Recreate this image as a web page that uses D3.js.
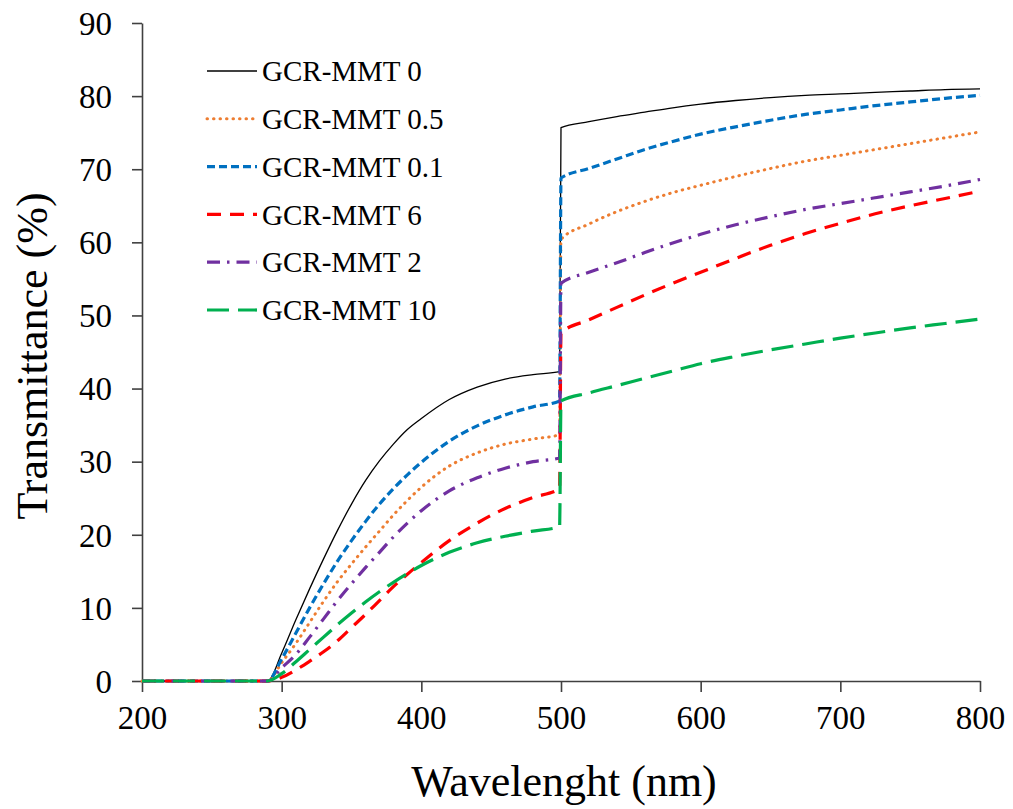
<!DOCTYPE html>
<html>
<head>
<meta charset="utf-8">
<script src="https://cdn.jsdelivr.net/npm/d3@7"></script>
<style>
  html, body { margin: 0; padding: 0; background: #fff; }
  svg { display: block; }
  text { font-family: "Liberation Serif", "Times New Roman", serif; fill: #000; }
</style>
</head>
<body>
<svg id="chart" width="1013" height="809"></svg>
<script>
// ---- data ----
const wavelengths = [200, 250, 290, 300, 310, 320, 330, 340, 350, 360, 370, 380, 390, 400, 420, 440, 460, 480, 499,
                     500, 520, 540, 560, 580, 600, 625, 650, 675, 700, 725, 750, 775, 800];

const seriesNames = ["GCR-MMT 0", "GCR-MMT 0.5", "GCR-MMT 0.1", "GCR-MMT 6", "GCR-MMT 2", "GCR-MMT 10"];

const mmt0   = [0, 0, 0, 3.8, 8.3, 12.6, 16.7, 20.6, 24.2, 27.4, 30.1, 32.4, 34.4, 35.9, 38.5, 40.2, 41.3, 41.9, 42.3,
                75.7, 76.5, 77.2, 77.8, 78.4, 78.9, 79.4, 79.8, 80.1, 80.3, 80.5, 80.7, 80.9, 81.0];
const mmt05  = [0, 0, 0, 2.5, 5.1, 8.0, 10.9, 13.6, 16.0, 18.3, 20.5, 22.7, 24.7, 26.5, 29.4, 31.2, 32.4, 33.1, 33.7,
                60.4, 62.5, 64.2, 65.6, 66.8, 67.8, 69.0, 70.1, 71.1, 71.9, 72.7, 73.5, 74.3, 75.1];
const mmt01  = [0, 0, 0, 3.0, 6.5, 10.0, 13.3, 16.4, 19.2, 21.8, 24.2, 26.3, 28.2, 29.9, 32.8, 34.9, 36.4, 37.5, 38.3,
                68.8, 70.1, 71.4, 72.7, 73.8, 74.8, 75.8, 76.7, 77.5, 78.1, 78.7, 79.2, 79.7, 80.1];
const mmt6   = [0, 0, 0, 0.5, 1.5, 2.7, 4.0, 5.5, 7.3, 9.1, 11.0, 12.9, 14.6, 16.2, 19.2, 21.6, 23.6, 25.1, 26.3,
                47.6, 49.4, 51.1, 52.8, 54.4, 55.9, 57.8, 59.6, 61.2, 62.6, 63.9, 65.0, 66.0, 67.0];
const mmt2   = [0, 0, 0, 1.8, 3.6, 6.0, 8.5, 11.0, 13.3, 15.5, 17.6, 19.7, 21.6, 23.3, 26.0, 27.8, 29.1, 30.0, 30.5,
                54.4, 55.9, 57.2, 58.6, 59.9, 61.1, 62.4, 63.5, 64.5, 65.3, 66.1, 66.9, 67.7, 68.6];
const mmt10  = [0, 0, 0, 1.0, 2.6, 4.3, 6.0, 7.7, 9.3, 10.8, 12.2, 13.5, 14.7, 15.8, 17.6, 18.9, 19.8, 20.5, 21.1,
                38.3, 39.4, 40.4, 41.4, 42.4, 43.4, 44.4, 45.3, 46.1, 46.9, 47.6, 48.3, 48.9, 49.5];

const xTicks = [200, 300, 400, 500, 600, 700, 800];
const yTicks = [0, 10, 20, 30, 40, 50, 60, 70, 80, 90];

const seriesValues = [mmt0, mmt05, mmt01, mmt6, mmt2, mmt10];
const seriesStyles = [
  { color: "#000000", width: 1.3, dash: null, cap: "butt" },
  { color: "#ED7D31", width: 3, dash: "0.5 6", cap: "round" },
  { color: "#0070C0", width: 3.2, dash: "8 4", cap: "butt" },
  { color: "#FF0000", width: 3.2, dash: "14 9", cap: "butt" },
  { color: "#7030A0", width: 3.2, dash: "13 7 2.5 7", cap: "butt" },
  { color: "#00B050", width: 3.2, dash: "22 9", cap: "butt" }
];

// ---- layout ----
const svg = d3.select("#chart");
const mLeft = 142, mRight = 980, mTop = 23, mBottom = 681;

const x = d3.scaleLinear().domain([200, 800]).range([mLeft, mRight]);
const y = d3.scaleLinear().domain([0, 90]).range([mBottom, mTop]);

// axes
const xAxis = d3.axisBottom(x).tickValues(xTicks).tickSize(11).tickSizeOuter(0).tickPadding(14);
const yAxis = d3.axisLeft(y).tickValues(yTicks).tickSize(10).tickSizeOuter(0).tickPadding(20);

const gx = svg.append("g").attr("transform", `translate(0,${mBottom})`).call(xAxis);
const gy = svg.append("g").attr("transform", `translate(${mLeft},0)`).call(yAxis);

[gx, gy].forEach(g => {
  g.select(".domain").attr("stroke", "#404040").attr("stroke-width", 1.6);
  g.selectAll(".tick line").attr("stroke", "#404040").attr("stroke-width", 1.6);
  g.selectAll(".tick text")
    .style("font-family", '"Liberation Serif", "Times New Roman", serif')
    .style("font-size", "33px")
    .attr("fill", "#000");
});
gx.selectAll(".tick text").attr("dy", "0.71em");
gy.selectAll(".tick text").attr("dy", "0.34em");

// lines
const line = d3.line()
  .x(d => x(d[0]))
  .y(d => y(d[1]))
  .curve(d3.curveMonotoneX);

seriesValues.forEach((vals, i) => {
  const pts = wavelengths.map((w, j) => [w, vals[j]]);
  const st = seriesStyles[i];
  const p = svg.append("path")
    .datum(pts)
    .attr("d", line)
    .attr("fill", "none")
    .attr("stroke", st.color)
    .attr("stroke-width", st.width)
    .attr("stroke-linecap", st.cap)
    .attr("stroke-linejoin", "round");
  if (st.dash) p.attr("stroke-dasharray", st.dash);
});

// legend
const legX0 = 207, legX1 = 257, legTextX = 262, legY0 = 71, legStep = 47.8;
seriesNames.forEach((name, i) => {
  const st = seriesStyles[i];
  const yy = legY0 + i * legStep;
  const l = svg.append("line")
    .attr("x1", legX0).attr("x2", legX1)
    .attr("y1", yy).attr("y2", yy)
    .attr("stroke", st.color)
    .attr("stroke-width", st.width)
    .attr("stroke-linecap", st.cap);
  if (st.dash) l.attr("stroke-dasharray", st.dash);
  svg.append("text")
    .attr("x", legTextX).attr("y", yy)
    .attr("dy", "0.35em")
    .style("font-size", "29px")
    .text(name);
});

// axis titles
svg.append("text")
  .attr("x", (mLeft + mRight) / 2 + 3)
  .attr("y", 796)
  .attr("text-anchor", "middle")
  .style("font-size", "44px")
  .text("Wavelenght (nm)");

svg.append("text")
  .attr("transform", `translate(47,${(mTop + mBottom) / 2 + 4}) rotate(-90)`)
  .attr("text-anchor", "middle")
  .style("font-size", "44px")
  .text("Transmittance (%)");
</script>
</body>
</html>
